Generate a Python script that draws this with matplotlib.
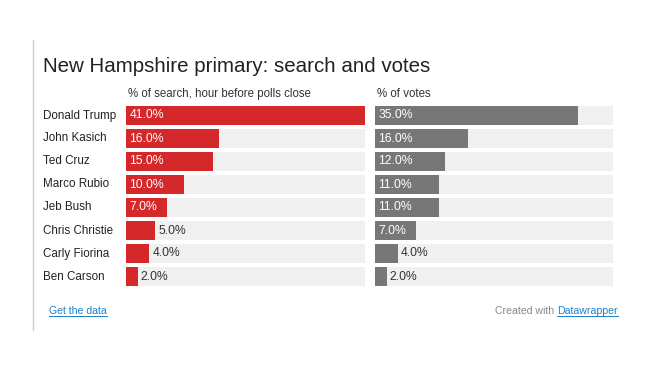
import matplotlib.pyplot as plt

candidates = ["Donald Trump", "John Kasich", "Ted Cruz", "Marco Rubio",
              "Jeb Bush", "Chris Christie", "Carly Fiorina", "Ben Carson"]
search = [41.0, 16.0, 15.0, 10.0, 7.0, 5.0, 4.0, 2.0]
votes = [35.0, 16.0, 12.0, 11.0, 11.0, 7.0, 4.0, 2.0]

plt.rcParams['font.family'] = ['Liberation Sans', 'DejaVu Sans']

W, H = 664, 386
fig = plt.figure(figsize=(W / 100, H / 100), dpi=100)
fig.patch.set_facecolor('white')


def px(x, y):
    return x / W, 1 - y / H


# left rule
fig.add_artist(plt.Line2D([33 / W, 33 / W], [1 - 40 / H, 1 - 330 / H],
                          color='#cccccc', lw=1))

fig.text(*px(43, 66), "New Hampshire primary: search and votes",
         fontsize=14.8, color='#222222', va='center', ha='left')

top, bottom = 104, 288


def panel(x0, x1, values, color, header):
    ax = fig.add_axes([x0 / W, 1 - bottom / H, (x1 - x0) / W, (bottom - top) / H])
    ys = range(len(values))
    ax.barh(ys, [41] * len(values), height=0.83, color='#f0f0f0')
    ax.barh(ys, values, height=0.83, color=color)
    for y, v in zip(ys, values):
        lab = f"{v:.1f}%"
        if v >= 7:
            ax.text(0.6, y, lab, color='white', fontsize=8.8, va='center',
                    ha='left', path_effects=[])
        else:
            ax.text(v + 0.5, y, lab, color='#333333', fontsize=8.7, va='center', ha='left')
    ax.set_xlim(0, 41)
    ax.set_ylim(len(values) - 0.5, -0.5)
    ax.axis('off')
    fig.text(*px(x0 + 2, 94), header, fontsize=8.3, color='#333333', va='center', ha='left')
    return ax


ax1 = panel(126, 365, search, '#d5282b', "% of search, hour before polls close")
ax2 = panel(375, 613, votes, '#777777', "% of votes")

for i, name in enumerate(candidates):
    fig.text(*px(43, 115.5 + 23 * i), name, fontsize=8.4, color='#222222',
             va='center', ha='left')

fig.text(*px(49, 311), "Get the data", fontsize=7.6, color='#1d81c6',
         va='center', ha='left')
fig.add_artist(plt.Line2D([49 / W, 107 / W], [1 - 316 / H, 1 - 316 / H],
                          color='#1d81c6', lw=0.7))
dw = fig.text(*px(618, 311), "Datawrapper", fontsize=7.6, color='#1d81c6',
              va='center', ha='right')
fig.canvas.draw()
bb = dw.get_window_extent()
left_px = bb.x0
fig.text(left_px / W - 3 / W, 1 - 311 / H, "Created with", fontsize=7.6,
         color='#888888', va='center', ha='right')
fig.add_artist(plt.Line2D([left_px / W, 618 / W], [1 - 316 / H, 1 - 316 / H],
                          color='#1d81c6', lw=0.7))

fig.savefig("out.png", dpi=100)
